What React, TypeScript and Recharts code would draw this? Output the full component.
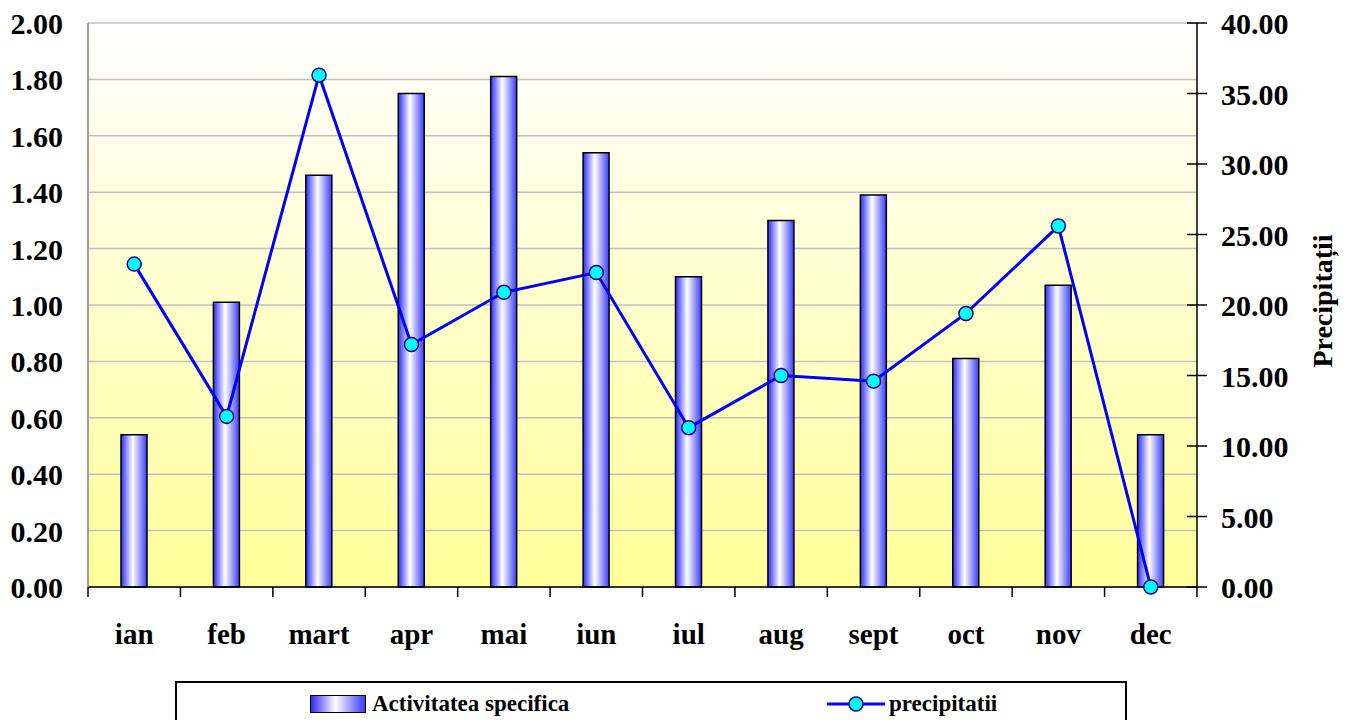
import { ComposedChart, Bar, Line, XAxis, YAxis, CartesianGrid } from "recharts"

const months = ["ian", "feb", "mart", "apr", "mai", "iun", "iul", "aug", "sept", "oct", "nov", "dec"]
const activitate = [0.54, 1.01, 1.46, 1.75, 1.81, 1.54, 1.1, 1.3, 1.39, 0.81, 1.07, 0.54]
const precipitatii = [22.9, 12.1, 36.3, 17.2, 20.9, 22.3, 11.3, 15.0, 14.6, 19.4, 25.6, 0.0]
const leftTicks = [0, 0.2, 0.4, 0.6, 0.8, 1.0, 1.2, 1.4, 1.6, 1.8, 2.0]
const rightTicks = [0, 5, 10, 15, 20, 25, 30, 35, 40]

const data = months.map((m, i) => ({ month: m, act: activitate[i], prec: precipitatii[i] }))

const W = 1352
const H = 720
const LEFT_W = 88
const RIGHT_W = 155
const BAND = (W - LEFT_W - RIGHT_W) / months.length
const FONT = "'Liberation Serif', 'Times New Roman', serif"

const LeftTick = (props: any) => {
    const { x, y, payload } = props
    return (
        <text x={x - 25} y={y + 11} textAnchor="end" fontFamily={FONT} fontWeight="bold" fontSize={30} fill="#000">
            {Number(payload.value).toFixed(2)}
        </text>
    )
}

const RightTick = (props: any) => {
    const { x, y, payload } = props
    return (
        <g>
            <line x1={x - 10} x2={x + 10} y1={y} y2={y} stroke="#000" strokeWidth={1.5} />
            <text x={x + 24} y={y + 11} textAnchor="start" fontFamily={FONT} fontWeight="bold" fontSize={30} fill="#000">
                {Number(payload.value).toFixed(2)}
            </text>
        </g>
    )
}

const MonthTick = (props: any) => {
    const { x, y, payload, index } = props
    const last = index === months.length - 1
    return (
        <g>
            <line x1={x - BAND / 2} x2={x - BAND / 2} y1={y} y2={y + 10} stroke="#000" strokeWidth={1.5} />
            {last && <line x1={x + BAND / 2} x2={x + BAND / 2} y1={y} y2={y + 10} stroke="#000" strokeWidth={1.5} />}
            <text x={x} y={y + 57} textAnchor="middle" fontFamily={FONT} fontWeight="bold" fontSize={29} fill="#000">
                {payload.value}
            </text>
        </g>
    )
}

const RightLabel = (props: any) => {
    const { viewBox } = props
    const cx = viewBox.x + 125
    const cy = viewBox.y + viewBox.height / 2 - 4
    return (
        <text x={cx} y={cy} transform={`rotate(-90 ${cx} ${cy})`} textAnchor="middle" dominantBaseline="central"
            fontFamily={FONT} fontWeight="bold" fontSize={28} fill="#000">
            Precipitații
        </text>
    )
}

export default function App() {
    return (
        <div style={{ position: "absolute", left: 0, top: 0, width: W, height: H, background: "#fff", overflow: "hidden" }}>
            <ComposedChart width={W} height={H} data={data} margin={{ top: 23, right: 0, left: 0, bottom: 73 }}>
                <defs>
                    <linearGradient id="plotBg" x1="0" y1="0" x2="0" y2="1">
                        <stop offset="0%" stopColor="#ffffff" />
                        <stop offset="100%" stopColor="#ffff99" />
                    </linearGradient>
                    <linearGradient id="barFill" x1="0" y1="0" x2="1" y2="0">
                        <stop offset="0%" stopColor="#2a2aff" />
                        <stop offset="45%" stopColor="#ffffff" />
                        <stop offset="100%" stopColor="#3a3aff" />
                    </linearGradient>
                </defs>
                <CartesianGrid yAxisId="left" vertical={false} stroke="#c0c0c0" strokeWidth={1.5} fill="url(#plotBg)" fillOpacity={1} />
                <XAxis dataKey="month" height={60} axisLine={{ stroke: "#000", strokeWidth: 1.5 }} tickLine={false}
                    tickSize={0} tickMargin={0} tick={<MonthTick />} interval={0} />
                <YAxis yAxisId="left" width={LEFT_W} domain={[0, 2]} ticks={leftTicks} axisLine={{ stroke: "#808080", strokeWidth: 1.5 }}
                    tickLine={false} tickSize={0} tickMargin={0} tick={<LeftTick />} interval={0} />
                <YAxis yAxisId="right" orientation="right" width={RIGHT_W} domain={[0, 40]} ticks={rightTicks}
                    axisLine={{ stroke: "#000", strokeWidth: 1.5 }} tickLine={false} tickSize={0} tickMargin={0}
                    tick={<RightTick />} interval={0} label={<RightLabel />} />
                <Bar yAxisId="left" dataKey="act" barSize={26} fill="url(#barFill)" stroke="#000" strokeWidth={1.5} isAnimationActive={false} />
                <Line yAxisId="right" dataKey="prec" type="linear" stroke="#0000ff" strokeWidth={3}
                    dot={{ r: 7, fill: "#00ffff", stroke: "#000080", strokeWidth: 1.5 }} activeDot={false} isAnimationActive={false} />
            </ComposedChart>
            <div style={{ position: "absolute", left: 175, top: 681, width: 952, height: 60, border: "2px solid #000", boxSizing: "border-box", background: "#fff", fontFamily: FONT, fontWeight: "bold", fontSize: 23 }}>
                <div style={{ position: "absolute", left: 133, top: 12, width: 54, height: 16, border: "1.5px solid #000", background: "linear-gradient(to right, #2a2aff 0%, #ffffff 45%, #3a3aff 100%)" }} />
                <div style={{ position: "absolute", left: 195, top: 6, lineHeight: "30px", whiteSpace: "nowrap" }}>Activitatea specifica</div>
                <svg style={{ position: "absolute", left: 650, top: 6 }} width={60} height={30}>
                    <line x1={0} x2={58} y1={15} y2={15} stroke="#0000ff" strokeWidth={3} />
                    <circle cx={29} cy={15} r={7} fill="#00ffff" stroke="#000080" strokeWidth={1.5} />
                </svg>
                <div style={{ position: "absolute", left: 712, top: 6, lineHeight: "30px", whiteSpace: "nowrap" }}>precipitatii</div>
            </div>
        </div>
    )
}
